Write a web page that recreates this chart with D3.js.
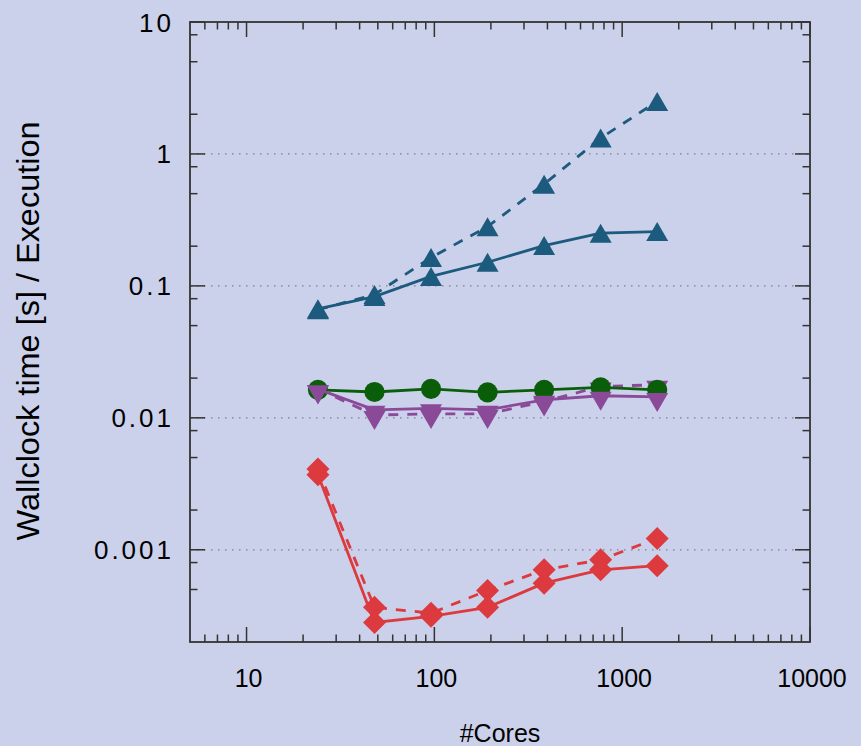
<!DOCTYPE html>
<html>
<head>
<style>
    body { margin: 0; background: #cbd1ea; }
    svg { display: block; }
    text { font-family: "Liberation Sans", Arial, sans-serif; fill: #000; }
</style>
</head>
<body>
<svg id="chart" width="861" height="746"></svg>
<script src="https://d3js.org/d3.v7.min.js"></script>
<script>
    // data
    const cores = [24, 48, 96, 192, 384, 768, 1536];
    const blueSolid = [0.067, 0.083, 0.118, 0.151, 0.202, 0.251, 0.258];
    const blueDashed = [0.066, 0.086, 0.164, 0.281, 0.59, 1.32, 2.5];
    const greenSolid = [0.0163, 0.0157, 0.0166, 0.0156, 0.0163, 0.0170, 0.0163];
    const purpleSolid = [0.0165, 0.0115, 0.0118, 0.0115, 0.0137, 0.0147, 0.0144];
    const purpleDashed = [0.0165, 0.0105, 0.0107, 0.0107, 0.0133, 0.0173, 0.0178];
    const redSolid = [0.0037, 0.000281, 0.000313, 0.000366, 0.000558, 0.000705, 0.000757];
    const redDashed = [0.0041, 0.000366, 0.000331, 0.000492, 0.000705, 0.000839, 0.00122];

    const xTicks = [10, 100, 1000, 10000];
    const yTicks = [0.001, 0.01, 0.1, 1, 10];
    const yTickLabels = ["0.001", "0.01", "0.1", "1", "10"];

    const plotLeft = 190, plotRight = 810, plotTop = 22, plotBottom = 642;

    const svg = d3.select("#chart");

    const x = d3.scaleLog().domain([5, 10000]).range([plotLeft, plotRight]);
    const y = d3.scaleLog().domain([0.0002, 10]).range([plotBottom, plotTop]);

    // minor tick values
    let xMinor = [6, 7, 8, 9];
    for (let e = 1; e <= 3; e++) {
        for (let m = 2; m <= 9; m++) xMinor.push(m * Math.pow(10, e));
    }
    let yMinor = [];
    for (let e = -4; e <= 0; e++) {
        [2, 5, 8].forEach(function (m) { yMinor.push(m * Math.pow(10, e)); });
    }
    yMinor = yMinor.filter(function (d) { return d > 0.00021 && d < 10; });

    // grid
    svg.append("g").selectAll("line")
        .data(yTicks.filter(function (d) { return d < 10; }))
        .enter().append("line")
        .attr("x1", plotLeft).attr("x2", plotRight)
        .attr("y1", function (d) { return y(d); })
        .attr("y2", function (d) { return y(d); })
        .attr("stroke", "#80808e")
        .attr("stroke-width", 1.3)
        .attr("stroke-dasharray", "1.5,5.5");

    // ticks, mirrored on all sides
    const ticks = svg.append("g").attr("stroke", "#333").attr("stroke-width", 1.5);
    xTicks.concat(xMinor).forEach(function (d) {
        const len = xTicks.indexOf(d) >= 0 ? 15 : 7.5;
        ticks.append("line").attr("x1", x(d)).attr("x2", x(d))
            .attr("y1", plotBottom).attr("y2", plotBottom - len);
        ticks.append("line").attr("x1", x(d)).attr("x2", x(d))
            .attr("y1", plotTop).attr("y2", plotTop + len);
    });
    yTicks.concat(yMinor).forEach(function (d) {
        const len = yTicks.indexOf(d) >= 0 ? 15 : 7.5;
        ticks.append("line").attr("x1", plotLeft).attr("x2", plotLeft + len)
            .attr("y1", y(d)).attr("y2", y(d));
        ticks.append("line").attr("x1", plotRight).attr("x2", plotRight - len)
            .attr("y1", y(d)).attr("y2", y(d));
    });

    // tick labels
    svg.append("g").selectAll("text")
        .data(xTicks)
        .enter().append("text")
        .attr("x", function (d) { return x(d) + 2; })
        .attr("y", 687)
        .attr("text-anchor", "middle")
        .attr("font-size", 25)
        .text(function (d) { return d; });

    svg.append("g").selectAll("text")
        .data(yTicks)
        .enter().append("text")
        .attr("x", 174)
        .attr("y", function (d) { return y(d) + 9.5; })
        .attr("text-anchor", "end")
        .attr("font-size", 26)
        .attr("letter-spacing", 3)
        .text(function (d, i) { return yTickLabels[i]; });

    // axis titles
    svg.append("text")
        .attr("x", 500).attr("y", 742)
        .attr("text-anchor", "middle")
        .attr("font-size", 25)
        .text("#Cores");

    svg.append("text")
        .attr("transform", "translate(39,331) rotate(-90)")
        .attr("text-anchor", "middle")
        .attr("font-size", 31)
        .attr("textLength", 419)
        .attr("lengthAdjust", "spacingAndGlyphs")
        .text("Wallclock time [s] / Execution");

    // series
    const plot = svg.append("g");
    const line = d3.line()
        .x(function (d) { return x(d[0]); })
        .y(function (d) { return y(d[1]); });

    function drawSeries(values, color, dashed, symbol) {
        const pts = cores.map(function (c, i) { return [c, values[i]]; });
        plot.append("path")
            .attr("d", line(pts))
            .attr("fill", "none")
            .attr("stroke", color)
            .attr("stroke-width", 2.8)
            .attr("stroke-dasharray", dashed ? "10,9" : null);
        plot.append("g").selectAll("path")
            .data(pts)
            .enter().append("path")
            .attr("d", symbol)
            .attr("transform", function (d) {
                return "translate(" + x(d[0]) + "," + y(d[1]) + ")";
            })
            .attr("fill", color);
    }

    // point shapes
    const triUp = d3.line()([[0, -9.5], [11, 9.5], [-11, 9.5]]) + "Z";
    const triDown = d3.line()([[-11, -4], [11, -4], [0, 15]]) + "Z";
    const circ = d3.symbol().type(d3.symbolCircle).size(320)();
    const diam = d3.line()([[0, -11.5], [11.5, 0], [0, 11.5], [-11.5, 0]]) + "Z";

    const blue = "#1c5a7e", green = "#0a5e0a", purple = "#8a4a98", red = "#dc3a3e";

    drawSeries(blueDashed, blue, true, triUp);
    drawSeries(blueSolid, blue, false, triUp);
    drawSeries(purpleDashed, purple, true, triDown);
    drawSeries(greenSolid, green, false, circ);
    drawSeries(purpleSolid, purple, false, triDown);
    drawSeries(redDashed, red, true, diam);
    drawSeries(redSolid, red, false, diam);

    // frame
    svg.append("rect")
        .attr("x", plotLeft).attr("y", plotTop)
        .attr("width", plotRight - plotLeft).attr("height", plotBottom - plotTop)
        .attr("fill", "none")
        .attr("stroke", "#333")
        .attr("stroke-width", 1.8);
</script>
</body>
</html>
